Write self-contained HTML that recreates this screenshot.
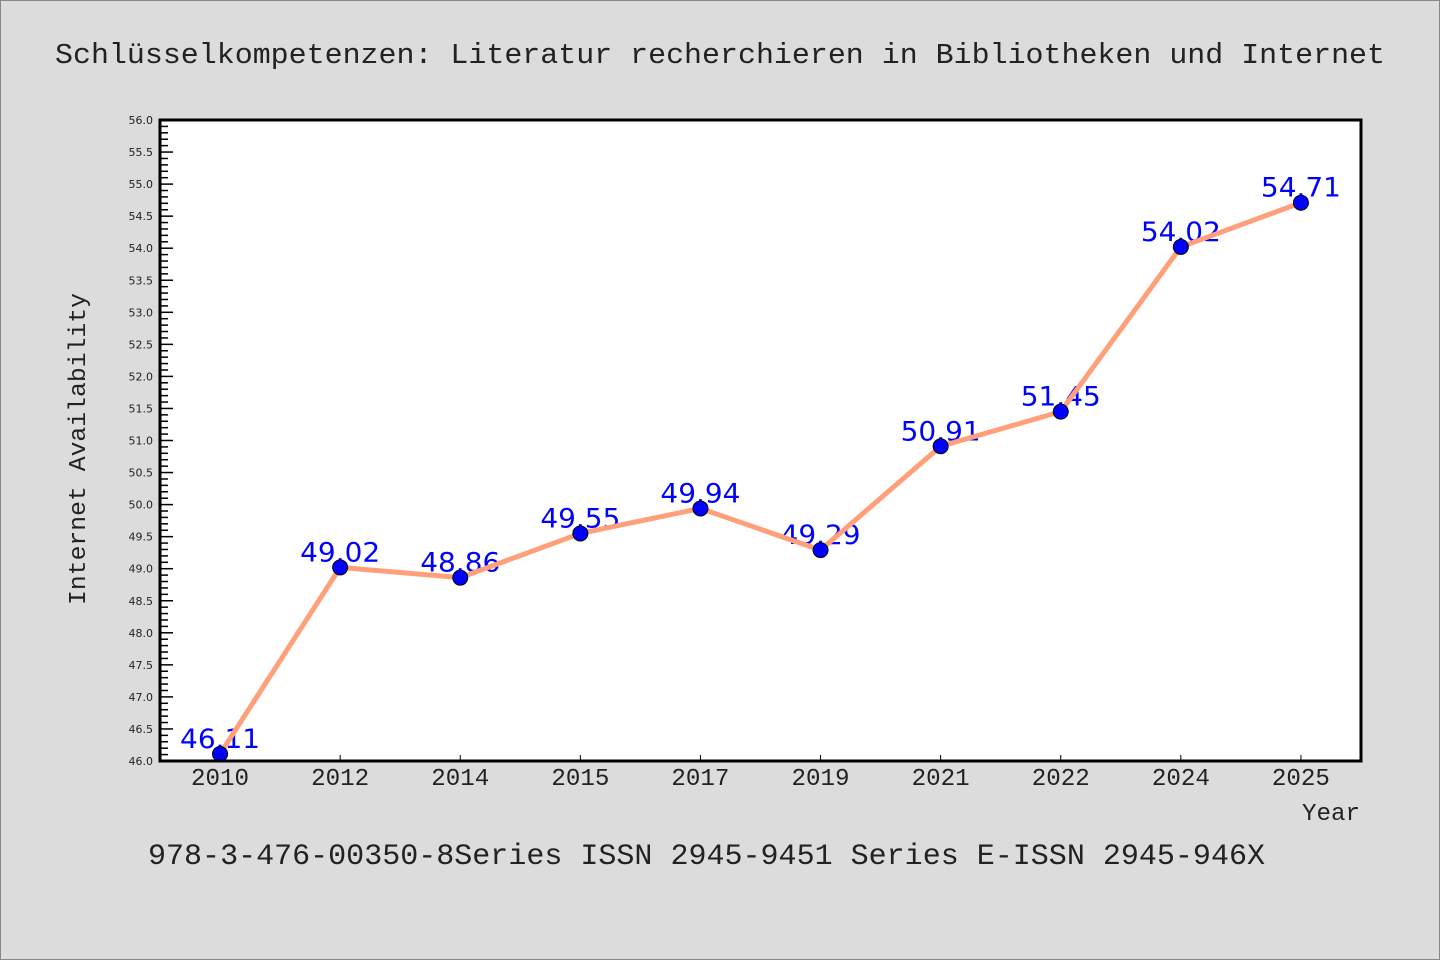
<!DOCTYPE html>
<html><head><meta charset="utf-8"><style>
body{margin:0;background:#dcdcdc;}
svg{display:block;font-family:"WenQuanYi Zen Hei Mono","WenQuanYi Zen Hei","Liberation Mono",monospace;}
</style></head><body>
<svg id="chart" width="1440" height="960">
<rect x="0.5" y="0.5" width="1439" height="959" fill="#dcdcdc" stroke="#888"/>
<text x="55" y="63" font-size="29" fill="#222" textLength="1330" lengthAdjust="spacingAndGlyphs">Schlüsselkompetenzen: Literatur recherchieren in Bibliotheken und Internet</text>
<rect x="160" y="120" width="1201" height="641" fill="#fff"/>
<g id="yaxis"></g>
<g id="xaxis"></g>
<g id="labels"></g>
<g id="series"></g>
<rect x="160" y="120" width="1201" height="641" fill="none" stroke="#000" stroke-width="3"/>
<text transform="translate(85,605) rotate(-90)" font-size="24" fill="#222" textLength="312" lengthAdjust="spacingAndGlyphs">Internet Availability</text>
<text x="1302" y="820" font-size="24" fill="#222" textLength="58" lengthAdjust="spacingAndGlyphs">Year</text>
<text x="148" y="864" font-size="30" fill="#222" textLength="1117" lengthAdjust="spacingAndGlyphs">978-3-476-00350-8Series ISSN 2945-9451 Series E-ISSN 2945-946X</text>
</svg>
<script>
const categories=["2010","2012","2014","2015","2017","2019","2021","2022","2024","2025"];
const values=[46.11,49.02,48.86,49.55,49.94,49.29,50.91,51.45,54.02,54.71];
const valueLabels=["46.11","49.02","48.86","49.55","49.94","49.29","50.91","51.45","54.02","54.71"];
const yTicks=["46.0","46.5","47.0","47.5","48.0","48.5","49.0","49.5","50.0","50.5","51.0","51.5","52.0","52.5","53.0","53.5","54.0","54.5","55.0","55.5","56.0"];
const NS="http://www.w3.org/2000/svg";
const L=160,R=1361,T=120,B=761,YMIN=46,YMAX=56;
const x=i=>L+(R-L)/categories.length*(i+0.5);
const y=v=>B-(v-YMIN)/(YMAX-YMIN)*(B-T);
function mk(tag,attrs,parent,txt){const e=document.createElementNS(NS,tag);for(const k in attrs)e.setAttribute(k,attrs[k]);if(txt!==undefined)e.textContent=txt;parent.appendChild(e);return e;}
const ya=document.getElementById('yaxis');
for(let k=0;k<=100;k++){const v=YMIN+k*0.1;const major=k%5===0;
 const t=mk('line',{x1:L,x2:L+(major?13:8),y1:y(v),y2:y(v),stroke:'#000','stroke-width':1.5},ya);
 
 }
yTicks.forEach(s=>{const t=mk('text',{x:L-7,y:y(parseFloat(s))+4,'text-anchor':'end','font-size':11,fill:'#222','font-family':'"DejaVu Sans",sans-serif'},ya,s);
 
 });
const xa=document.getElementById('xaxis');
categories.forEach((c,i)=>{const t=mk('line',{x1:x(i),x2:x(i),y1:B,y2:B-6,stroke:'#000','stroke-width':1},xa);
 
 
 const l=mk('text',{x:x(i),y:785,'text-anchor':'middle','font-size':24,fill:'#222',textLength:58,lengthAdjust:'spacingAndGlyphs'},xa,c);
 
 });
const lg=document.getElementById('labels');
values.forEach((v,i)=>{const t=mk('text',{x:x(i),y:y(v)-6,'text-anchor':'middle','font-size':27,fill:'#0000ff','font-family':'"DejaVu Sans",sans-serif',textLength:80,lengthAdjust:'spacingAndGlyphs'},lg,valueLabels[i]);
 
 });
const sg=document.getElementById('series');
const line=mk('polyline',{points:values.map((v,i)=>x(i)+','+y(v)).join(' '),fill:'none',stroke:'#ffa07a','stroke-width':5,'stroke-linejoin':'round'},sg);


values.forEach((v,i)=>{const c=mk('circle',{cx:x(i),cy:y(v),r:7.5,fill:'#0000ff',stroke:'#000','stroke-width':1},sg);
 
 });
</script>
</body></html>
